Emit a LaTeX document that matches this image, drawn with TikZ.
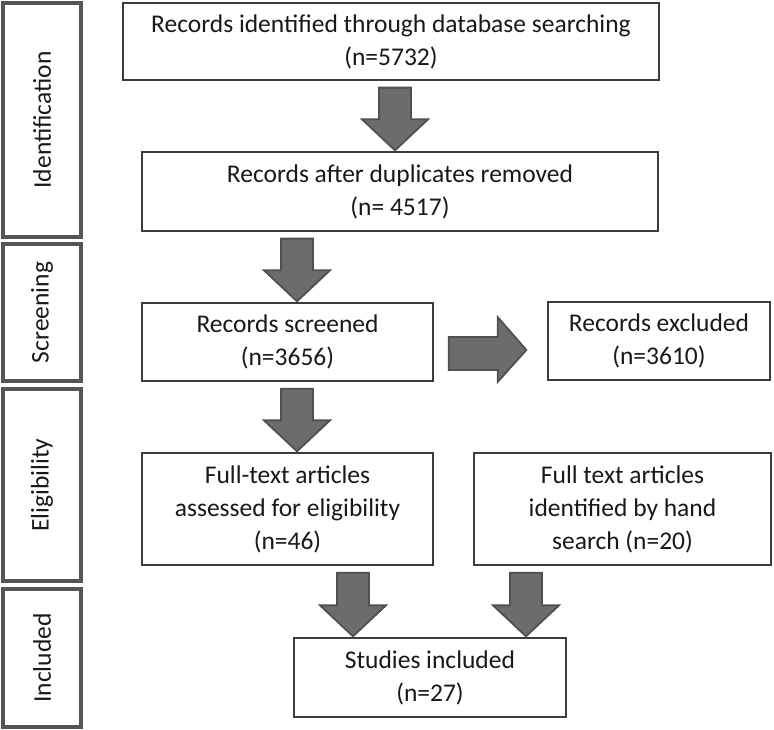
\documentclass[tikz,border=0pt]{standalone}
\usepackage{fontspec}
\setmainfont{Carlito}
\usetikzlibrary{calc}
\definecolor{boxline}{RGB}{60,60,60}
\definecolor{stageline}{RGB}{85,85,85}
\definecolor{arrowfill}{RGB}{108,108,108}
\definecolor{arrowline}{RGB}{80,80,80}
\definecolor{txt}{RGB}{25,25,25}

% fat block arrow pointing down, at x=#1, from node #2 to node #3
\newcommand{\blkdown}[3]{%
  \draw[blkarrow] let \p1=(#2.south), \p2=(#3.north) in
    (#1pt-16pt,\y1-7pt) -- (#1pt+16pt,\y1-7pt) -- (#1pt+16pt,\y2+32pt) -- (#1pt+33pt,\y2+32pt)
    -- (#1pt,\y2+1pt) -- (#1pt-33pt,\y2+32pt) -- (#1pt-16pt,\y2+32pt) -- cycle;}

\begin{document}
\begin{tikzpicture}[x=1pt,y=-1pt,
  every node/.style={font=\fontsize{25.5}{33}\selectfont, text=txt, align=center},
  flowbox/.style={draw=boxline, line width=1.3pt, fill=white, inner sep=0pt},
  stagebox/.style={draw=stageline, line width=3.2pt, minimum width=78pt, inner sep=0pt},
  blkarrow/.style={fill=arrowfill, draw=arrowline, line width=1.8pt, line join=miter}]

\useasboundingbox (0,0) rectangle (774,730);

% stages
\node[stagebox, minimum height=234pt] (ident) at (42,120) {};
\node[rotate=90] at (ident.center) {Identification};
\node[stagebox, minimum height=137pt] (screen) at (42,312.5) {};
\node[rotate=90] at (screen.center) {Screening};
\node[stagebox, minimum height=192pt] (elig) at (42,485) {};
\node[rotate=90] at (elig.center) {Eligibility};
\node[stagebox, minimum height=138pt] (incl) at (42,658) {};
\node[rotate=90] at (incl.center) {Included};

% boxes
\node[flowbox, minimum width=536pt, minimum height=77pt] (rec) at (391,41.5)
  {Records identified through database searching\\(n=5732)};
\node[flowbox, minimum width=516pt, minimum height=79pt] (dup) at (400,191.5)
  {Records after duplicates removed\\(n= 4517)};
\node[flowbox, minimum width=291pt, minimum height=78pt] (scr) at (287.5,342)
  {Records screened\\(n=3656)};
\node[flowbox, minimum width=222pt, minimum height=78pt] (exc) at (659,341)
  {Records excluded\\(n=3610)};
\node[flowbox, minimum width=291pt, minimum height=112pt] (full) at (287.5,509)
  {Full-text articles\\assessed for eligibility\\(n=46)};
\node[flowbox, minimum width=297pt, minimum height=112pt] (hand) at (622.5,509)
  {Full text articles\\identified by hand\\search (n=20)};
\node[flowbox, minimum width=272pt, minimum height=79pt] (inc) at (430,677.5)
  {Studies included\\(n=27)};

% arrows
\blkdown{395}{rec}{dup}
\blkdown{297}{dup}{scr}
\blkdown{297}{scr}{full}
\blkdown{353}{full}{inc}
\blkdown{526}{hand}{inc}
\draw[blkarrow] let \p1=(scr.east), \p2=(exc.west) in
  (\x1+15pt,\y1+5pt) -- (\x1+64pt,\y1+5pt) -- (\x1+64pt,\y1+25pt) -- (\x2-21pt,\y1-8pt)
  -- (\x1+64pt,\y1-40pt) -- (\x1+64pt,\y1-28pt) -- (\x1+15pt,\y1-28pt) -- cycle;

\end{tikzpicture}
\end{document}
